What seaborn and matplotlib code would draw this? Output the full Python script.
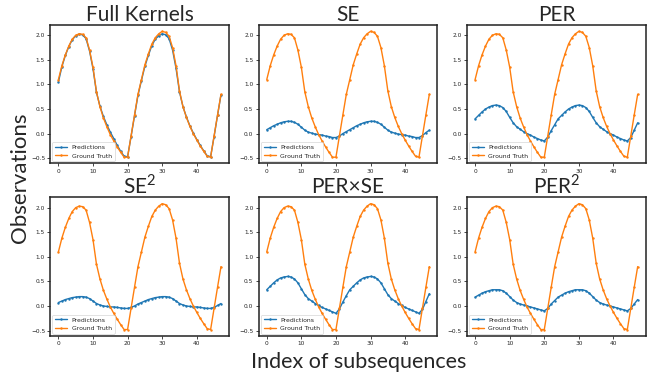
import numpy as np
import pandas as pd
import matplotlib
matplotlib.use("Agg")
import matplotlib.pyplot as plt
import seaborn as sns

# x positions: index of subsequences
idx = list(range(48))

ground_truth = [1.10, 1.38, 1.60, 1.78, 1.92, 2.00, 2.03, 2.02, 1.95, 1.70, 1.35, 0.85,
                0.55, 0.32, 0.14, -0.02, -0.15, -0.27, -0.38, -0.48, -0.48, -0.05, 0.38, 0.80,
                1.10, 1.40, 1.62, 1.82, 1.95, 2.03, 2.08, 2.06, 1.98, 1.75, 1.38, 0.87,
                0.55, 0.33, 0.15, 0.00, -0.13, -0.25, -0.36, -0.46, -0.48, -0.05, 0.38, 0.80]

pred_full = [1.05, 1.36, 1.59, 1.77, 1.91, 1.99, 2.02, 2.01, 1.93, 1.68, 1.32, 0.84,
             0.56, 0.35, 0.18, 0.03, -0.10, -0.24, -0.36, -0.46, -0.47, -0.06, 0.36, 0.78,
             1.08, 1.37, 1.59, 1.79, 1.92, 1.99, 2.03, 2.01, 1.93, 1.70, 1.33, 0.85,
             0.55, 0.34, 0.16, 0.01, -0.12, -0.24, -0.35, -0.45, -0.47, -0.06, 0.37, 0.79]

pred_se = [0.08, 0.12, 0.16, 0.19, 0.22, 0.24, 0.25, 0.25, 0.23, 0.19, 0.13, 0.07,
           0.03, 0.01, -0.01, -0.02, -0.03, -0.05, -0.06, -0.08, -0.08, -0.05, 0.00, 0.04,
           0.08, 0.12, 0.16, 0.19, 0.22, 0.24, 0.25, 0.25, 0.23, 0.19, 0.13, 0.07,
           0.03, 0.01, -0.01, -0.02, -0.03, -0.05, -0.06, -0.08, -0.08, -0.04, 0.02, 0.07]

pred_per = [0.30, 0.37, 0.44, 0.50, 0.54, 0.57, 0.58, 0.57, 0.53, 0.45, 0.33, 0.22,
            0.14, 0.09, 0.04, 0.00, -0.03, -0.07, -0.10, -0.13, -0.15, -0.07, 0.06, 0.18,
            0.30, 0.37, 0.44, 0.50, 0.54, 0.57, 0.58, 0.57, 0.53, 0.45, 0.33, 0.22,
            0.14, 0.09, 0.04, 0.00, -0.03, -0.07, -0.10, -0.13, -0.15, -0.08, 0.07, 0.22]

pred_se2 = [0.07, 0.10, 0.13, 0.15, 0.17, 0.18, 0.19, 0.19, 0.18, 0.15, 0.10, 0.05,
            0.02, 0.00, -0.01, -0.02, -0.02, -0.03, -0.04, -0.05, -0.05, -0.03, 0.00, 0.04,
            0.07, 0.10, 0.13, 0.15, 0.17, 0.18, 0.19, 0.19, 0.18, 0.15, 0.10, 0.05,
            0.02, 0.00, -0.01, -0.02, -0.02, -0.03, -0.04, -0.05, -0.05, -0.03, 0.01, 0.05]

pred_perse = [0.33, 0.40, 0.47, 0.53, 0.57, 0.59, 0.60, 0.59, 0.55, 0.47, 0.35, 0.23,
              0.15, 0.10, 0.05, 0.01, -0.03, -0.06, -0.09, -0.12, -0.15, -0.06, 0.08, 0.21,
              0.33, 0.40, 0.47, 0.53, 0.57, 0.59, 0.60, 0.59, 0.55, 0.47, 0.35, 0.23,
              0.15, 0.10, 0.05, 0.01, -0.03, -0.06, -0.09, -0.12, -0.15, -0.07, 0.09, 0.25]

pred_per2 = [0.18, 0.22, 0.26, 0.29, 0.31, 0.33, 0.33, 0.33, 0.31, 0.26, 0.19, 0.12,
             0.07, 0.04, 0.02, 0.00, -0.02, -0.04, -0.06, -0.08, -0.10, -0.05, 0.04, 0.11,
             0.18, 0.22, 0.26, 0.29, 0.31, 0.33, 0.33, 0.33, 0.31, 0.26, 0.19, 0.12,
             0.07, 0.04, 0.02, 0.00, -0.02, -0.04, -0.06, -0.08, -0.10, -0.05, 0.04, 0.13]

titles = ["Full Kernels", "SE", "PER", "SE$^{2}$", "PER\u00d7SE", "PER$^{2}$"]
preds = [pred_full, pred_se, pred_per, pred_se2, pred_perse, pred_per2]

sns.set_style("ticks")
plt.rcParams['font.family'] = ['DejaVu Sans']
plt.rcParams['mathtext.fontset'] = 'custom'
plt.rcParams['mathtext.rm'] = 'Lato'

fig, axes = plt.subplots(2, 3, figsize=(6.53, 3.74), dpi=100)
fig.subplots_adjust(left=0.077, right=0.989, top=0.933, bottom=0.102,
                    wspace=0.165, hspace=0.245)

for ax, title, pred in zip(axes.flat, titles, preds):
    df = pd.DataFrame({
        "index": idx + idx,
        "value": pred + ground_truth,
        "series": ["Predictions"] * len(idx) + ["Ground Truth"] * len(idx),
    })
    sns.lineplot(data=df, x="index", y="value", hue="series",
                 palette=["#1f77b4", "#ff7f0e"], marker=".", markersize=3.5,
                 markeredgewidth=0, linewidth=1.0, ax=ax)
    ax.set_title(title, fontsize=15, family=["Lato", "DejaVu Sans"], pad=1)
    ax.set_xlabel("")
    ax.set_ylabel("")
    ax.set_xticks([0, 10, 20, 30, 40])
    ax.set_yticks([-0.5, 0.0, 0.5, 1.0, 1.5, 2.0])
    ax.tick_params(labelsize=4.2, length=2.2, width=0.6, pad=1.5)
    for s in ax.spines.values():
        s.set_linewidth(1.1)
        s.set_color("#222222")
    leg = ax.legend(loc="lower left", fontsize=4.4, frameon=True,
                    borderpad=0.45, handlelength=2.0, labelspacing=0.5,
                    borderaxespad=0.35, handletextpad=0.7)
    leg.get_frame().set_linewidth(0.5)

fig.text(0.031, 0.524, "Observations", rotation=90, ha="center", va="center",
         fontsize=16, family=["Lato", "DejaVu Sans"])
fig.text(0.55, 0.032, "Index of subsequences", ha="center", va="center",
         fontsize=15.5, family=["Lato", "DejaVu Sans"])

fig.savefig("out.png", dpi=100)
